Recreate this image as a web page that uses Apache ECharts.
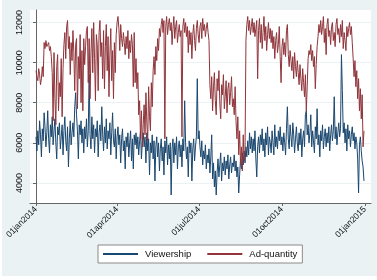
<!DOCTYPE html>
<html>
<head>
<meta charset="utf-8">
<script src="https://cdn.jsdelivr.net/npm/echarts@6/dist/echarts.min.js"></script>
<style>
html,body{margin:0;padding:0;background:#fff;}
#chart{width:377px;height:280px;}
</style>
</head>
<body>
<div id="chart"></div>
<script>
// Daily observations, 01jan2014 .. 31dec2014 (index 0 = 01jan2014)
const seriesNames = ["Viewership", "Ad-quantity"];
const tickDays = [0, 90, 181, 273, 365];
const tickLabels = ["01jan2014", "01apr2014", "01jul2014", "01oct2014", "01jan2015"];
const yTicks = [4000, 6000, 8000, 10000, 12000];

const viewership = [
  6300, 5600, 6600, 5900, 7100, 6400, 5300, 6700, 6100, 7500,
  6800, 5800, 6500, 7600, 6200, 5500, 6900, 6300, 7300, 5900, 6600,
  7200, 6000, 5200, 6800, 6400, 7000, 5700, 6300, 6900, 5400,
  6600, 7300, 6100, 5600, 6800, 4800, 6200, 7100, 5900, 6500,
  7000, 6300, 7800, 8500, 7400, 6600, 5200, 6900, 6400, 7100,
  6000, 6700, 5500, 6800, 6200, 7200, 5800, 6600, 9400, 6400,
  5700, 7300, 6200, 6900, 5500, 6700, 6300, 7100, 5300, 6500,
  6900, 6100, 7800, 6400, 5600, 6800, 6000, 7200, 5700, 6600,
  6200, 7000, 5400, 6500, 7500, 6100, 5800, 6700, 5200, 6300,
  6800, 5900, 6400, 5000, 6200, 6700, 5600, 6100, 4700, 6300,
  5800, 6500, 5300, 6000, 6600, 5100, 6200, 4700, 6400, 5900,
  6500, 5700, 6300, 5400, 6100, 6600, 5200, 6000, 6500, 5800,
  6300, 5000, 6500, 5600, 6200, 4400, 6000, 5500, 6400, 5200,
  6100, 4100, 5800, 6300, 5300, 6000, 4600, 5700, 6200, 5100,
  5800, 4400, 6100, 5500, 6300, 4900, 5900, 5200, 6000, 3400,
  5700, 6200, 5000, 6000, 5400, 6300, 4700, 5800, 6100, 5300,
  5900, 4800, 6200, 5600, 8100, 6000, 5200, 5800, 4300, 6100,
  5500, 6000, 4100, 5700, 6200, 5100, 5800, 6300, 9200, 6200,
  6600, 5800, 5300, 6100, 4900, 5600, 5200, 5900, 4700, 5400,
  5000, 5700, 4500, 5300, 6400, 4200, 5000, 3800, 4600, 3400,
  4500, 5200, 4300, 4900, 5500, 4100, 5000, 4600, 5300, 4400,
  5100, 4700, 5400, 4200, 4900, 5300, 4500, 5000, 4800, 5400,
  4600, 5100, 4300, 4800, 3500, 4400, 5200, 4700, 5500, 4900,
  5600, 5000, 5800, 5300, 6100, 5400, 6500, 5700, 6300, 5500,
  6200, 5600, 6600, 5200, 4300, 5800, 6300, 5500, 6400, 5900,
  6700, 5600, 6200, 5300, 6500, 5900, 6800, 5400, 6300, 6000,
  5500, 6600, 6000, 5400, 6900, 5800, 6300, 5700, 6600, 6100,
  6800, 5900, 6300, 5600, 6500, 6000, 5400, 6700, 7800, 6200,
  5700, 6900, 6300, 5800, 7000, 6400, 5500, 6200, 6800, 6000,
  5600, 6500, 5900, 6700, 5300, 6200, 6600, 5800, 7400, 7600,
  6400, 6900, 6000, 6500, 7400, 5800, 6600, 6100, 5500, 6800,
  6200, 7700, 5900, 6400, 5300, 6600, 6100, 6900, 5700, 6300,
  6700, 5800, 6500, 6000, 6800, 5600, 6400, 6900, 6100, 6600,
  8300, 6200, 6800, 5900, 6500, 7000, 6300, 6700, 10400, 8600,
  6500, 7000, 6000, 6700, 5600, 6900, 6200, 6600, 5800, 6400,
  6800, 6100, 6500, 5700, 6300, 6000, 5200, 3500, 5900, 6300, 5600, 5100, 4800, 4100
];

const adQuantity = [
  9600, 9300, 9100, 9700, 9400, 8900, 9200, 9800, 9300,
  11000, 10700, 11100, 10800, 10900, 11000, 10600, 10800, 10300,
  9500, 7100, 10500, 8200, 6900, 9800, 10400, 7600, 9000, 8300, 10200, 7300, 9700,
  10900, 11500, 10200, 11800, 12100, 10700, 11300, 9400, 11000, 10100, 11600, 10500, 8600, 10900, 11200,
  7700, 10300, 9200, 11400, 8000, 10600, 7600, 11200, 9900, 10800, 11600,
  11800, 9000, 11200, 8200, 10500, 11700, 9500, 12000, 10200, 8100, 11400, 10900, 8600, 11500,
  12100, 10300, 11000, 9200, 11600, 8700, 10800, 11900, 9600, 11300, 8300, 10400, 11700, 9100, 10600,
  8200, 11000, 9500, 11400, 12000, 12300, 11700, 10600, 11900, 11200,
  10800, 11500, 11000, 10400, 11300, 10700, 11600, 10200, 11100, 10500, 11400, 10900, 8800, 11500, 9000,
  10200, 8700, 9500, 7400, 8100, 6200, 7600, 5800, 6900, 7900,
  6400, 8500, 7000, 6100, 8800, 7300, 6600, 9000, 7800, 9600,
  10300, 9400, 10800, 10100, 11200, 10600, 11700, 11300, 11900, 12200,
  11500, 12100, 6200, 11800, 12300, 11400, 11900, 12200, 11600, 12000, 10900, 11700, 12300, 11200, 11800, 12100, 11000, 11500, 11900, 11300,
  11600, 6300, 11800, 12200, 11500, 12000, 11300, 11800, 10500, 11600,
  10900, 11500, 10200, 11400, 11900, 11100, 10600, 11700, 12100, 11400,
  11000, 11800, 12000, 11200, 12200, 11600, 11900, 11300, 11700, 12000, 11500, 11100,
  8900, 8200, 9300, 7600, 8800, 9500, 8100, 7400, 9200, 8600,
  9600, 8000, 7200, 8900, 8400, 9400, 7700, 8300, 9100, 7500,
  8700, 9000, 7900, 8500, 9300, 7800, 8200, 7400, 8800, 7100,
  6200, 7300, 5400, 6600, 4900, 5800, 4600, 6400, 5100, 5600,
  11100, 11900, 12300, 11600, 12100, 11400, 11800, 12200, 11500, 12000, 11300, 11700, 12100,
  9200, 11600, 12200, 11000, 11900, 10700, 11500, 12300, 11100, 11800, 10600, 11400, 12000, 11200, 11700,
  11000, 11600, 10700, 11300, 10200, 11100, 11500, 10500, 10900, 11800, 10300, 9000, 10800, 11200, 10400,
  11000, 10300, 11600, 11900, 10400, 9800, 10600, 10100, 9600, 10300, 9200, 10500, 9800, 9300, 10100,
  9500, 8900, 9900, 9200, 8600, 9700, 9000, 8300, 9400, 7600, 8800, 10200, 10600,
  10400, 10900, 10100, 10600, 9800, 10300, 8700, 9900, 10800, 11300, 11900, 11500,
  12100, 11400, 11800, 12300, 11000, 11700, 10400, 11900, 12200, 11300, 11600, 10900, 11800, 12000, 11100, 11500, 10800, 11900, 12200, 11400,
  11700, 11000, 11900, 11300, 12100, 10700, 11500, 11100, 10600, 11800, 11300, 11700, 12000, 11400, 11800,
  11000, 10200, 9300, 10100, 8800, 9600, 8200, 9200, 7600, 8700, 7200, 8400, 5800, 6600
];

const toPairs = arr => arr.map((v, i) => [i, v]);

const chart = echarts.init(document.getElementById('chart'), null, {renderer: 'canvas'});
const fontFam = '"Liberation Sans", Arial, sans-serif';
chart.setOption({
  backgroundColor: '#EAF2F3',
  animation: false,
  textStyle: {fontFamily: fontFam},
  graphic: {elements: [
    {type: 'rect', shape: {x: 0, y: 276, width: 377, height: 4}, style: {fill: '#fff'}, silent: true},
    {type: 'rect', shape: {x: 0, y: 0, width: 2, height: 280}, style: {fill: '#fff'}, silent: true}
  ]},
  grid: {left: 30, right: 6, top: 10, bottom: 77, show: true, backgroundColor: '#fff', borderWidth: 0},
  legend: {
    left: 98, top: 245, width: 202,
    backgroundColor: '#fff', borderColor: '#8a8a8a', borderWidth: 1,
    padding: [4, 5, 4, 5], itemGap: 16, itemWidth: 35, itemHeight: 2,
    icon: 'rect',
    textStyle: {fontSize: 9.5, color: '#111', fontFamily: fontFam, padding: [0, 0, 0, 2]},
    data: seriesNames
  },
  xAxis: {
    type: 'value', min: -6.66, max: 371.8,
    axisLine: {show: true, lineStyle: {color: '#666', width: 1}},
    axisTick: {show: true, length: 3, customValues: tickDays, lineStyle: {color: '#666'}},
    axisLabel: {
      customValues: tickDays, rotate: 45, fontSize: 8.5, color: '#111', margin: 5,
      formatter: v => tickLabels[tickDays.indexOf(v)] || ''
    },
    splitLine: {show: false}
  },
  yAxis: {
    type: 'value', min: 3000, max: 12625,
    axisLine: {show: true, lineStyle: {color: '#666', width: 1}},
    axisTick: {show: true, length: 3, customValues: yTicks, lineStyle: {color: '#666'}},
    axisLabel: {customValues: yTicks, rotate: 90, fontSize: 9, color: '#111', margin: 6,
      formatter: v => String(v)},
    splitLine: {show: true, lineStyle: {color: '#EAF2F3', width: 1}}
  },
  series: [
    {name: seriesNames[0], type: 'line', data: toPairs(viewership), symbol: 'none',
     lineStyle: {color: '#1A476F', width: 1}, itemStyle: {color: '#1A476F'}},
    {name: seriesNames[1], type: 'line', data: toPairs(adQuantity), symbol: 'none',
     lineStyle: {color: '#90353B', width: 1}, itemStyle: {color: '#90353B'}}
  ]
});
</script>
</body>
</html>
